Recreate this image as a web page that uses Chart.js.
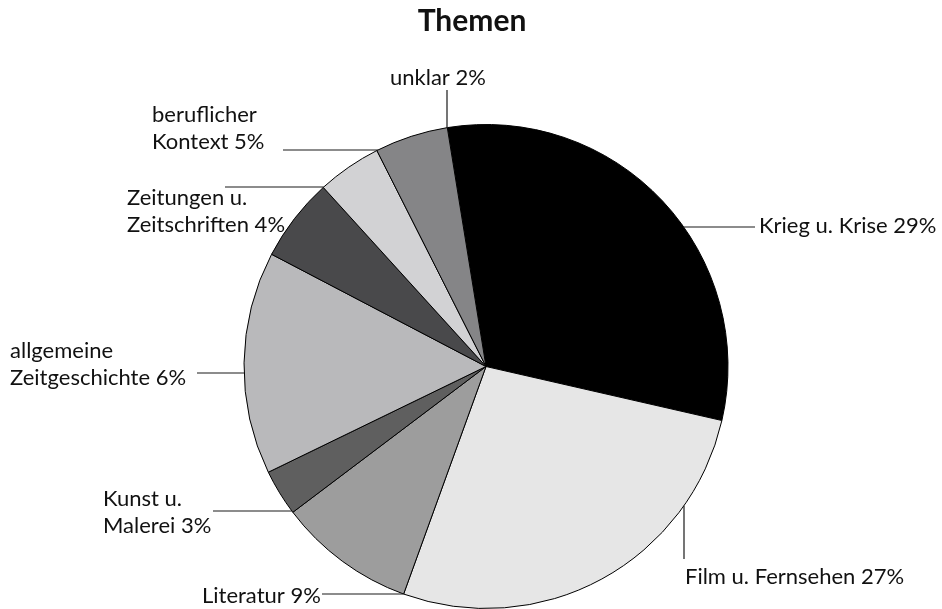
<!DOCTYPE html>
<html>
<head>
<meta charset="utf-8">
<script src="https://cdn.jsdelivr.net/npm/chart.js@4"></script>
<style>
  html, body { margin: 0; padding: 0; background: #fff; }
  #wrap { width: 942px; height: 609px; position: relative; }
</style>
</head>
<body>
<div id="wrap"><canvas id="themen"></canvas></div>
<script>
const categories = [
    'Krieg u. Krise',
    'Film u. Fernsehen',
    'Literatur',
    'Kunst u. Malerei',
    'allgemeine Zeitgeschichte',
    'Zeitungen u. Zeitschriften',
    'beruflicher Kontext',
    'unklar',
];
const shares = [31.2, 27.0, 9.2, 3.1, 14.9, 5.6, 4.3, 4.9];
// percentages printed in the labels
const shownPercent = [29, 27, 9, 3, 6, 4, 5, 2];
const sliceColors = [
    '#000000',
    '#e6e6e6',
    '#9d9d9d',
    '#5f5f5f',
    '#b9b9bb',
    '#49494b',
    '#d2d2d4',
    '#858587',
];

// where each label sits and where its leader line starts (it runs to the pie edge)
const labelLayout = [
    { x: 759, y: 233, brk: 0, line: { dir: 'h', at: 227, from: 755 } },
    { x: 685, y: 584, brk: 0, line: { dir: 'v', at: 684, from: 559 } },
    { x: 202, y: 603, brk: 0, line: { dir: 'h', at: 594, from: 322 } },
    { x: 103, y: 506, brk: 2, line: { dir: 'h', at: 511, from: 213 } },
    { x: 10, y: 358, brk: 1, line: { dir: 'h', at: 373, from: 197 } },
    { x: 127, y: 205, brk: 2, line: { dir: 'h', at: 187, from: 225 } },
    { x: 152, y: 122, brk: 1, line: { dir: 'h', at: 150, from: 283 } },
    { x: 390, y: 85, brk: 0, line: { dir: 'v', at: 447, from: 90 } },
];

const labelFont = '22px Lato';
const lineHeight = 27;

const leaderLabels = {
    id: 'leaderLabels',
    afterDraw(chart) {
        const ctx = chart.ctx;
        const arc = chart.getDatasetMeta(0).data[0];
        const cx = arc.x, cy = arc.y, r = arc.outerRadius;
        ctx.save();

        ctx.fillStyle = '#111';
        ctx.font = 'bold 30px Lato';
        ctx.textAlign = 'center';
        ctx.textBaseline = 'alphabetic';
        ctx.fillText('Themen', 472, 31);

        ctx.font = labelFont;
        ctx.textAlign = 'left';
        ctx.strokeStyle = '#1a1a1a';
        ctx.lineWidth = 1.2;
        labelLayout.forEach((l, i) => {
            const words = (categories[i] + ' ' + shownPercent[i] + '%').split(' ');
            const lines = l.brk ? [words.slice(0, l.brk).join(' '), words.slice(l.brk).join(' ')] : [words.join(' ')];
            lines.forEach((t, k) => ctx.fillText(t, l.x, l.y + k * lineHeight));

            ctx.beginPath();
            if (l.line.dir === 'h') {
                const dy = l.line.at - cy;
                const ex = cx + Math.sign(l.line.from - cx) * Math.sqrt(Math.max(r * r - dy * dy, 0));
                ctx.moveTo(l.line.from, l.line.at);
                ctx.lineTo(ex, l.line.at);
            } else {
                const dx = l.line.at - cx;
                const ey = cy + Math.sign(l.line.from - cy) * Math.sqrt(Math.max(r * r - dx * dx, 0));
                ctx.moveTo(l.line.at, l.line.from);
                ctx.lineTo(l.line.at, ey);
            }
            ctx.stroke();
        });
        ctx.restore();
    }
};

const data = {
    labels: categories,
    datasets: [{
        data: shares,
        backgroundColor: sliceColors,
        borderColor: '#000',
        borderWidth: 1,
        hoverOffset: 0,
    }]
};

const config = {
    type: 'pie',
    data: data,
    options: {
        responsive: false,
        animation: false,
        rotation: -9.2,
        layout: {
            padding: { top: 124, bottom: 0, left: 243.5, right: 213.5 }
        },
        plugins: {
            legend: { display: false },
            tooltip: { enabled: false },
            title: { display: false },
        },
    },
    plugins: [leaderLabels],
};

const canvas = document.getElementById('themen');
canvas.width = 942;
canvas.height = 609;
const myChart = new Chart(canvas, config);
</script>
</body>
</html>
